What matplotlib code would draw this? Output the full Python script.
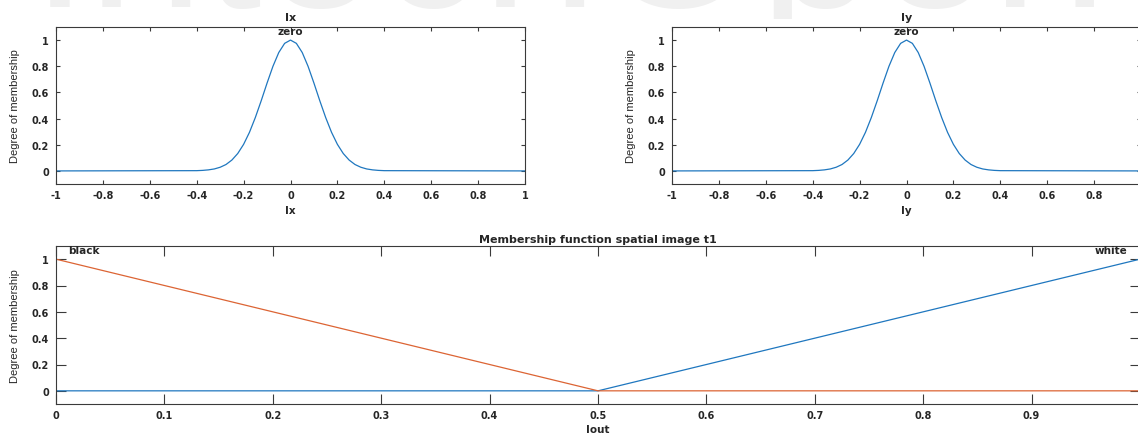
import matplotlib.pyplot as plt
from matplotlib.transforms import Bbox, TransformedBbox

# Gaussian "zero" membership for the two gradient inputs
grad_x = [-1.0, -0.4, -0.375, -0.35, -0.325, -0.3, -0.275, -0.25, -0.225, -0.2,
          -0.175, -0.15, -0.125, -0.1, -0.075, -0.05, -0.025, 0.0,
          0.025, 0.05, 0.075, 0.1, 0.125, 0.15, 0.175, 0.2, 0.225,
          0.25, 0.275, 0.3, 0.325, 0.35, 0.375, 0.4, 1.0]
ix_zero = [0.0, 0.002, 0.004, 0.008, 0.015, 0.028, 0.049, 0.083, 0.133, 0.203,
           0.295, 0.408, 0.536, 0.671, 0.799, 0.905, 0.975, 1.0,
           0.975, 0.905, 0.799, 0.671, 0.536, 0.408, 0.295, 0.203, 0.133,
           0.083, 0.049, 0.028, 0.015, 0.008, 0.004, 0.002, 0.0]
iy_zero = [0.0, 0.002, 0.004, 0.008, 0.015, 0.028, 0.049, 0.083, 0.133, 0.203,
           0.295, 0.408, 0.536, 0.671, 0.799, 0.905, 0.975, 1.0,
           0.975, 0.905, 0.799, 0.671, 0.536, 0.408, 0.295, 0.203, 0.133,
           0.083, 0.049, 0.028, 0.015, 0.008, 0.004, 0.002, 0.0]

# output membership functions
iout_x = [0.0, 0.5, 1.0]
iout_white = [0.0, 0.0, 1.0]
iout_black = [1.0, 0.0, 0.0]

grad_ticks = [-1, -0.8, -0.6, -0.4, -0.2, 0, 0.2, 0.4, 0.6, 0.8, 1]
grad_ticklabels = ["-1", "-0.8", "-0.6", "-0.4", "-0.2", "0", "0.2", "0.4", "0.6", "0.8", "1"]
out_ticks = [0, 0.1, 0.2, 0.3, 0.4, 0.5, 0.6, 0.7, 0.8, 0.9, 1]
out_ticklabels = ["0", "0.1", "0.2", "0.3", "0.4", "0.5", "0.6", "0.7", "0.8", "0.9", "1"]
mu_ticks = [0, 0.2, 0.4, 0.6, 0.8, 1]
mu_ticklabels = ["0", "0.2", "0.4", "0.6", "0.8", "1"]

BLUE = "#1f77bf"
ORANGE = "#dc6434"
AXCOL = "#3a3a3a"
TXT = "#262626"
BOLD = dict(family="DejaVu Sans", weight="bold", color=TXT)

W, H = 1138, 435
fig = plt.figure(figsize=(W / 100, H / 100), dpi=100)

# faint publisher mark, only its lower edge shows along the top
mark = fig.text(0.5, 1 - 7 / H, "IntechOpen", fontsize=150, color="#f0f0f0",
                ha="center", va="baseline", family="Liberation Sans", zorder=0)
mark.set_clip_box(TransformedBbox(Bbox([[0, 1 - 20 / H], [1, 1]]), fig.transFigure))
mark.set_clip_on(True)


def style_axes(ax, ticklen, xticks, xticklabels, xlab, ylab_x, xlab_y):
    ax.set_ylim(-0.1, 1.1)
    ax.set_xticks(xticks)
    ax.set_xticklabels(xticklabels)
    ax.set_yticks(mu_ticks)
    ax.set_yticklabels(mu_ticklabels)
    ax.tick_params(direction="in", top=True, right=True, length=ticklen,
                   width=0.8, color=AXCOL, labelsize=7, labelcolor=TXT)
    ax.tick_params(axis="x", pad=4)
    ax.tick_params(axis="y", pad=5)
    for lbl in ax.get_xticklabels() + ax.get_yticklabels():
        lbl.set_fontweight("bold")
    for sp in ax.spines.values():
        sp.set_color(AXCOL)
        sp.set_linewidth(0.8)
    ax.set_xlabel(xlab, fontsize=7.5, **BOLD)
    ax.xaxis.set_label_coords(0.5, xlab_y)
    ax.set_ylabel("Degree of membership", fontsize=8, family="Liberation Sans", color=TXT)
    ax.yaxis.set_label_coords(ylab_x, 0.5)


ax_ix = fig.add_axes([56 / W, 1 - 185 / H, 469 / W, 157 / H])
ax_iy = fig.add_axes([672 / W, 1 - 185 / H, 469 / W, 157 / H])
ax_out = fig.add_axes([56 / W, 1 - 405 / H, 1084 / W, 158 / H])

for ax, mu, name in [(ax_ix, ix_zero, "Ix"), (ax_iy, iy_zero, "Iy")]:
    ax.plot(grad_x, mu, color=BLUE, lw=0.9)
    ax.set_xlim(-1, 1)
    style_axes(ax, 3, grad_ticks, grad_ticklabels, name, -36 / 469, -21 / 157)
    ax.set_title(name, fontsize=8, pad=5, **BOLD)
    ax.text(0, 1.03, "zero", fontsize=7.5, ha="center", va="bottom", **BOLD)

ax_out.plot(iout_x, iout_white, color=BLUE, lw=0.9)
ax_out.plot(iout_x, iout_black, color=ORANGE, lw=0.9)
ax_out.set_xlim(0, 1)
style_axes(ax_out, 7, out_ticks, out_ticklabels, "Iout", -36 / 1084, -20 / 158)
ax_out.set_title("Membership function spatial image t1", fontsize=8, pad=3, **BOLD)
ax_out.text(0.011, 1.03, "black", fontsize=7.5, ha="left", va="bottom", **BOLD)
ax_out.text(0.988, 1.03, "white", fontsize=7.5, ha="right", va="bottom", **BOLD)

fig.savefig("out.png", dpi=100, facecolor="white")
